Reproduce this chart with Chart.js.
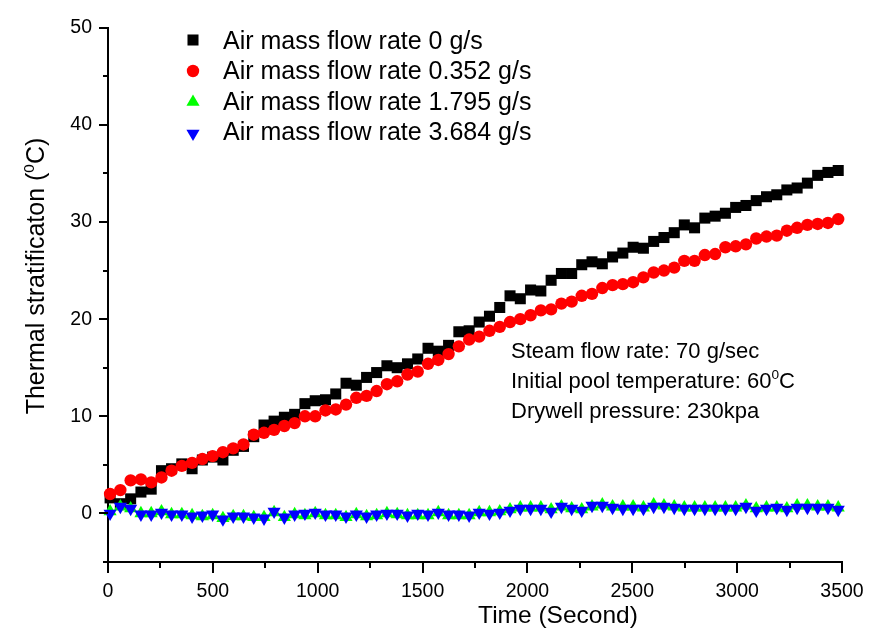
<!DOCTYPE html>
<html><head><meta charset="utf-8">
<script src="https://cdn.jsdelivr.net/npm/chart.js@4.4.1/dist/chart.umd.min.js"></script>
<style>html,body{margin:0;padding:0;background:#fff;}canvas{display:block;}</style>
</head><body>
<canvas id="c" width="884" height="631"></canvas>
<script>
// ---- data ----
const times = [
  10, 59, 108, 157, 206, 255, 303, 352, 401, 450,
  499, 548, 597, 646, 695, 744, 792, 841, 890, 939,
  988, 1037, 1086, 1135, 1184, 1233, 1281, 1330, 1379, 1428,
  1477, 1526, 1575, 1624, 1673, 1722, 1770, 1819, 1868, 1917,
  1966, 2015, 2064, 2113, 2162, 2211, 2259, 2308, 2357, 2406,
  2455, 2504, 2553, 2602, 2651, 2700, 2748, 2797, 2846, 2895,
  2944, 2993, 3042, 3091, 3140, 3189, 3237, 3286, 3335, 3384,
  3433, 3482];
const flow0 = [
  1.6, 1.0, 1.5, 2.2, 2.5, 4.4, 4.6, 5.1, 4.6, 5.5,
  5.8, 5.5, 6.5, 6.9, 7.9, 9.1, 9.5, 9.9, 10.2, 11.3,
  11.6, 11.7, 12.3, 13.4, 13.2, 14.0, 14.5, 15.2, 15.0, 15.4,
  15.9, 17.0, 16.7, 17.3, 18.7, 18.8, 19.7, 20.3, 21.2, 22.4,
  22.1, 23.0, 22.9, 24.0, 24.7, 24.7, 25.6, 25.9, 25.7, 26.4,
  26.8, 27.4, 27.3, 28.0, 28.4, 28.9, 29.7, 29.4, 30.4, 30.6,
  30.9, 31.5, 31.7, 32.2, 32.6, 32.8, 33.3, 33.5, 34.0, 34.8,
  35.1, 35.3];
const flow0352 = [
  2.0, 2.4, 3.4, 3.5, 3.2, 3.7, 4.4, 4.9, 5.2, 5.6,
  5.9, 6.3, 6.7, 7.1, 8.1, 8.3, 8.6, 9.0, 9.3, 10.0,
  10.0, 10.6, 10.7, 11.2, 11.9, 12.1, 12.6, 13.3, 13.6, 14.3,
  14.6, 15.4, 15.8, 16.4, 17.2, 17.9, 18.2, 18.8, 19.2, 19.7,
  20.0, 20.4, 20.9, 21.0, 21.6, 21.8, 22.4, 22.6, 23.2, 23.5,
  23.6, 23.8, 24.3, 24.8, 25.0, 25.3, 26.0, 26.0, 26.6, 26.7,
  27.4, 27.5, 27.7, 28.3, 28.5, 28.6, 29.1, 29.4, 29.7, 29.8,
  29.9, 30.3];
const flow1795 = [
  0.2, 0.7, 0.5, 0.0, 0.0, 0.2, -0.1, -0.1, -0.2, -0.3,
  -0.2, -0.5, -0.3, -0.3, -0.4, -0.4, 0.1, -0.4, -0.1, -0.2,
  0.0, -0.2, -0.2, -0.4, -0.1, -0.3, -0.2, 0.0, -0.1, -0.2,
  -0.2, -0.2, 0.1, -0.2, -0.2, -0.2, 0.1, 0.1, 0.2, 0.4,
  0.6, 0.6, 0.6, 0.4, 0.7, 0.5, 0.4, 0.7, 0.9, 0.7,
  0.7, 0.7, 0.6, 0.9, 0.8, 0.7, 0.6, 0.6, 0.6, 0.6,
  0.6, 0.6, 0.8, 0.5, 0.6, 0.6, 0.5, 0.8, 0.8, 0.7,
  0.7, 0.6];
const flow3684 = [
  0.0, 0.7, 0.5, -0.1, -0.1, 0.1, -0.1, -0.1, -0.3, -0.2,
  -0.1, -0.6, -0.3, -0.3, -0.4, -0.5, 0.2, -0.4, -0.1, 0.0,
  0.1, -0.1, -0.1, -0.3, -0.1, -0.3, -0.1, 0.0, 0.0, -0.2,
  0.0, -0.1, 0.1, -0.1, -0.1, -0.2, 0.1, 0.0, 0.1, 0.3,
  0.5, 0.5, 0.5, 0.2, 0.7, 0.5, 0.3, 0.8, 0.8, 0.6,
  0.5, 0.5, 0.5, 0.7, 0.7, 0.6, 0.5, 0.5, 0.5, 0.5,
  0.5, 0.5, 0.7, 0.3, 0.5, 0.6, 0.4, 0.6, 0.6, 0.6,
  0.6, 0.4];
const seriesLabels = ['Air mass flow rate 0 g/s', 'Air mass flow rate 0.352 g/s',
                      'Air mass flow rate 1.795 g/s', 'Air mass flow rate 3.684 g/s'];
const xTickValues = [0, 500, 1000, 1500, 2000, 2500, 3000, 3500];
const xMinorValues = [250, 750, 1250, 1750, 2250, 2750, 3250];
const yTickValues = [0, 10, 20, 30, 40, 50];
const yMinorValues = [-5, 5, 15, 25, 35, 45];

const FONT = "'Liberation Sans', Arial, Helvetica, sans-serif";
const styles = [
  {color: '#000000', pointStyle: 'rect', radius: 7.8, rotation: 0, order: 4},
  {color: '#ff0000', pointStyle: 'circle', radius: 6.2, rotation: 0, order: 3},
  {color: '#00ff00', pointStyle: 'triangle', radius: 7.6, rotation: 0, order: 2},
  {color: '#0000ff', pointStyle: 'triangle', radius: 7.6, rotation: 180, order: 1}
];
const seriesValues = [flow0, flow0352, flow1795, flow3684];

const datasets = seriesValues.map((vals, k) => ({
  label: seriesLabels[k],
  data: vals.map((v, i) => ({x: times[i], y: v})),
  showLine: false,
  pointStyle: styles[k].pointStyle,
  pointRadius: styles[k].radius,
  pointHoverRadius: styles[k].radius,
  pointRotation: styles[k].rotation,
  pointBackgroundColor: styles[k].color,
  pointBorderColor: styles[k].color,
  pointBorderWidth: 0,
  backgroundColor: styles[k].color,
  borderColor: styles[k].color,
  order: styles[k].order,
  clip: false
}));

function drawRich(ctx, parts, x, y, size, align) {
  let total = 0;
  const widths = parts.map(p => {
    ctx.font = (p[1] ? size * 0.62 : size) + 'px ' + FONT;
    const w = ctx.measureText(p[0]).width;
    total += w;
    return w;
  });
  let cx = align === 'center' ? x - total / 2 : x;
  parts.forEach((p, i) => {
    ctx.font = (p[1] ? size * 0.62 : size) + 'px ' + FONT;
    ctx.fillText(p[0], cx, p[1] ? y - size * 0.42 : y);
    cx += widths[i];
  });
}

const decor = {
  id: 'decor',
  afterDraw(chart) {
    const ctx = chart.ctx;
    const xs = chart.scales.x, ys = chart.scales.y;
    const ax = xs.top;
    const yAxisX = ys.right;
    ctx.save();
    ctx.strokeStyle = '#000';
    ctx.lineWidth = 2;
    ctx.beginPath();
    yTickValues.forEach(v => { const p = Math.round(ys.getPixelForValue(v)); ctx.moveTo(yAxisX, p); ctx.lineTo(yAxisX - 9, p); });
    yMinorValues.forEach(v => { const p = Math.round(ys.getPixelForValue(v)); ctx.moveTo(yAxisX, p); ctx.lineTo(yAxisX - 5, p); });
    xTickValues.forEach(v => { const p = Math.round(xs.getPixelForValue(v)); ctx.moveTo(p, ax); ctx.lineTo(p, ax + 11); });
    xMinorValues.forEach(v => { const p = Math.round(xs.getPixelForValue(v)); ctx.moveTo(p, ax); ctx.lineTo(p, ax + 6); });
    ctx.stroke();

    // legend
    ctx.textBaseline = 'alphabetic';
    ctx.textAlign = 'left';
    const legY = [40, 71, 102, 133.5];
    const legBase = [48.5, 79, 109.5, 140];
    styles.forEach((s, k) => {
      ctx.fillStyle = s.color;
      Chart.helpers.drawPoint(ctx, {pointStyle: s.pointStyle, radius: s.radius, rotation: s.rotation, borderWidth: 0}, 193, legY[k]);
      ctx.fillStyle = '#000';
      ctx.font = '25px ' + FONT;
      ctx.fillText(seriesLabels[k], 223, legBase[k]);
    });

    // annotation
    ctx.fillStyle = '#000';
    drawRich(ctx, [['Steam flow rate: 70 g/sec', false]], 511, 358, 22, 'left');
    drawRich(ctx, [['Initial pool temperature: 60', false], ['0', true], ['C', false]], 511, 388, 22, 'left');
    drawRich(ctx, [['Drywell pressure: 230kpa', false]], 511, 418, 22, 'left');

    // x title
    drawRich(ctx, [['Time (Second)', false]], 558, 623, 24.5, 'center');

    // y title
    ctx.save();
    ctx.translate(44, 276);
    ctx.rotate(-Math.PI / 2);
    drawRich(ctx, [['Thermal stratificaton (', false], ['0', true], ['C)', false]], 0, 0, 25, 'center');
    ctx.restore();
    ctx.restore();
  }
};

new Chart(document.getElementById('c'), {
  type: 'scatter',
  data: {datasets},
  options: {
    responsive: false,
    animation: false,
    devicePixelRatio: 1,
    layout: {padding: {left: 0, right: 42, top: 16, bottom: 0}},
    plugins: {legend: {display: false}, tooltip: {enabled: false}},
    scales: {
      x: {
        type: 'linear', min: 0, max: 3500,
        afterBuildTicks: s => { s.ticks = xTickValues.map(v => ({value: v})); },
        afterFit: s => { s.height = 69; },
        ticks: {font: {family: FONT, size: 19.5}, color: '#000', padding: 18, maxRotation: 0, autoSkip: false,
                callback: v => String(v)},
        grid: {display: true, drawOnChartArea: false, drawTicks: false, color: '#000'},
        border: {display: true, color: '#000', width: 2}
      },
      y: {
        type: 'linear', min: -5, max: 50,
        afterBuildTicks: s => { s.ticks = yTickValues.map(v => ({value: v})); },
        afterFit: s => { s.width = 108; },
        ticks: {font: {family: FONT, size: 19.5}, color: '#000', padding: 16, callback: v => String(v)},
        grid: {display: true, drawOnChartArea: false, drawTicks: false, color: '#000'},
        border: {display: true, color: '#000', width: 2}
      }
    }
  },
  plugins: [decor]
});
</script>
</body></html>
